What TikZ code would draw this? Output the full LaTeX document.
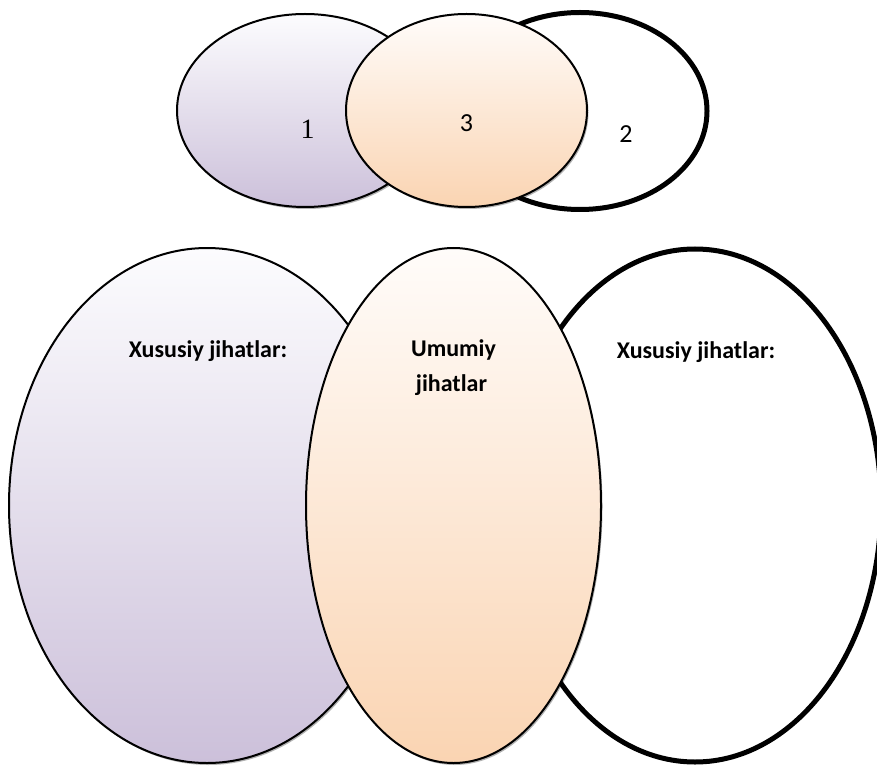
\documentclass[tikz,border=0pt]{standalone}
\usepackage{fontspec}
\setmainfont{Carlito}
\newfontfamily\timesfont{Liberation Serif}
\usetikzlibrary{shapes.geometric,shadows}
\definecolor{lavtop}{RGB}{252,252,254}
\definecolor{lavbot}{RGB}{204,192,218}
\definecolor{pchtop}{RGB}{255,252,250}
\definecolor{pchbot}{RGB}{250,212,178}
\begin{document}
\begin{tikzpicture}[x=1pt,y=-1pt,
 venn/.style={ellipse, draw=black, inner sep=0pt, outer sep=0pt},
 thinline/.style={line width=2pt},
 thickline/.style={line width=5pt},
 lav/.style={top color=lavtop, bottom color=lavbot},
 pch/.style={top color=pchtop, bottom color=pchbot},
 shad/.style={drop shadow={shadow xshift=1.5pt, shadow yshift=-2pt, opacity=0.3, fill=black}},
 lbl/.style={font=\fontsize{24}{28}\selectfont\bfseries, anchor=base, inner sep=0pt},
 num/.style={font=\fontsize{26}{30}\selectfont, anchor=base, inner sep=0pt}]
\clip (0,0) rectangle (877,767);
\fill[white] (0,0) rectangle (877,767);
% top row
\node[venn,thinline,lav,shad,minimum width=256pt,minimum height=193pt] (t1) at (305,110.5) {};
\node[venn,thickline,fill=white,minimum width=254pt,minimum height=197pt] (t2) at (580,111) {};
\node[venn,thinline,pch,shad,minimum width=241pt,minimum height=193pt] (t3) at (466.5,110.5) {};
% bottom row
\node[venn,thinline,lav,shad,minimum width=396pt,minimum height=515pt] (b1) at (207,505.5) {};
\node[venn,thickline,fill=white,minimum width=372pt,minimum height=513pt] (b2) at (695,505.5) {};
\node[venn,thinline,pch,shad,minimum width=295pt,minimum height=515pt] (b3) at (453.5,505.5) {};
% labels
\node[num,font=\timesfont\fontsize{28}{30}\selectfont] (n1) at (307.5,139) {1};
\node[num] (n3) at (466.5,131.7) {3};
\node[num] (n2) at (626,142.7) {2};
\node[lbl] (x1) at (208,357) {Xususiy jihatlar:};
\node[lbl] (u1) at (453.5,356) {Umumiy};
\node[lbl] (u2) at (451.5,391) {jihatlar};
\node[lbl] (x2) at (696,358) {Xususiy jihatlar:};
\end{tikzpicture}
\end{document}
